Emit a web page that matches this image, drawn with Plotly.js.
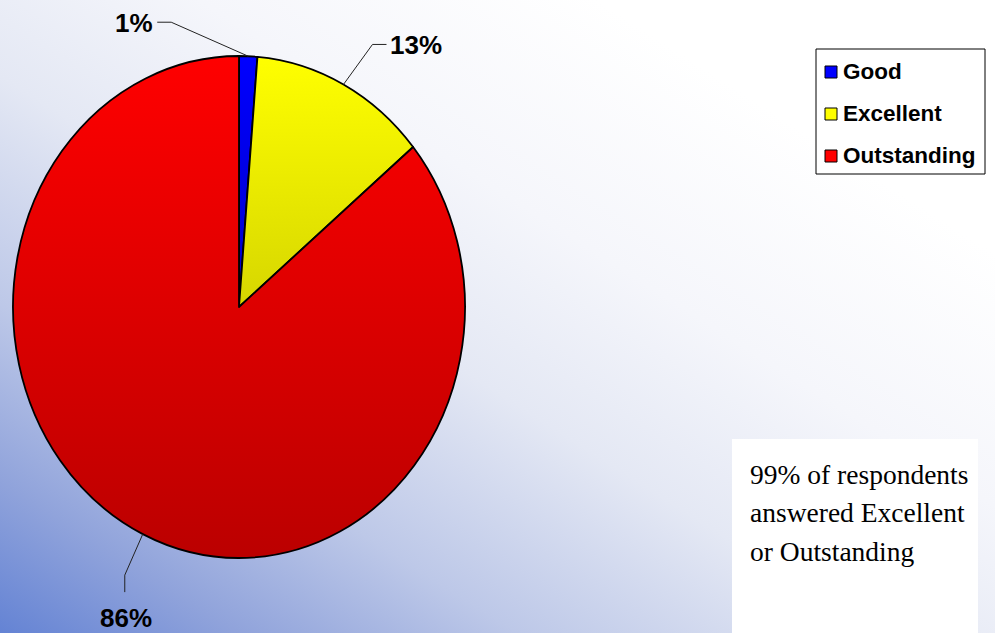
<!DOCTYPE html>
<html><head><meta charset="utf-8">
<script src="https://cdn.plot.ly/plotly-3.0.1.min.js"></script>
<style>
html,body{margin:0;padding:0;background:#fff;}
#chart{width:995px;height:633px;background:linear-gradient(to top right,#6483d4 0%,#90a3db 12%,#bdc8e8 26%,#e4e8f4 44%,#f5f6fb 60%,#ffffff 80%);}
</style></head><body><div id="chart"></div>
<script>
// ---- data ----
const categories = ['Good', 'Excellent', 'Outstanding'];
const values = [1.3, 12.7, 86];
const colors = ['#0000ff', '#ffff00', '#ff0000'];
const shadeColors = ['#0000c8', '#d6d600', '#bb0000'];
const noteLines = ['99% of respondents', 'answered Excellent', 'or Outstanding'];

// ---- layout constants (pixels) ----
const W = 995, H = 633;
const CX = 239, CY = 307, RX = 226, RY = 251;
const fx = px => px / W, fy = py => 1 - py / H;

// label leader styling per slice: elbow offset from edge, tail offset from elbow, label anchor
const leader = [
  {ex: -77, ey: -34, tx: -14, ty: 0, lx: -2, ly: 1, xa: 'right', ya: 'middle'},
  {ex: 29, ey: -40, tx: 14, ty: 0, lx: 2, ly: 1, xa: 'left', ya: 'middle'},
  {ex: -18, ey: 41, tx: 0, ty: 17, lx: 1, ly: 9, xa: 'center', ya: 'top'}
];

const total = values.reduce((a, b) => a + b, 0);
const shapes = [], annotations = [];
let cum = 0;
values.forEach((v, i) => {
  const mid = 2 * Math.PI * (cum + v / 2) / total;
  cum += v;
  const px = CX + RX * Math.sin(mid), py = CY - RY * Math.cos(mid);
  const L = leader[i];
  const ex = px + L.ex, ey = py + L.ey;
  const tx = ex + L.tx, ty = ey + L.ty;
  shapes.push({type: 'path', xref: 'paper', yref: 'paper',
    path: `M ${fx(px)} ${fy(py)} L ${fx(ex)} ${fy(ey)} L ${fx(tx)} ${fy(ty)}`,
    line: {color: '#222', width: 1}});
  annotations.push({xref: 'paper', yref: 'paper', x: fx(tx + L.lx), y: fy(ty + L.ly),
    xanchor: L.xa, yanchor: L.ya, showarrow: false,
    text: Math.round(v / total * 100) + '%',
    font: {family: 'Liberation Sans, Arial, sans-serif', size: 26, color: '#000', weight: 'bold'}});
});

// legend (manual, to match spacing)
shapes.push({type: 'rect', xref: 'paper', yref: 'paper', x0: fx(816), x1: fx(985), y0: fy(49), y1: fy(174),
  fillcolor: '#ffffff', line: {color: '#000', width: 1}});
categories.forEach((c, i) => {
  const yc = 72 + i * 42;
  shapes.push({type: 'rect', xref: 'paper', yref: 'paper', x0: fx(825), x1: fx(837), y0: fy(yc - 6), y1: fy(yc + 6),
    fillcolor: colors[i], line: {color: '#000', width: 1}});
  annotations.push({xref: 'paper', yref: 'paper', x: fx(841), y: fy(yc - 1), xanchor: 'left', yanchor: 'middle',
    showarrow: false, text: c,
    font: {family: 'Liberation Sans, Arial, sans-serif', size: 22.5, color: '#000', weight: 'bold'}});
});

// note box
shapes.push({type: 'rect', xref: 'paper', yref: 'paper', x0: fx(732), x1: fx(978), y0: fy(439), y1: fy(633),
  fillcolor: '#ffffff', line: {width: 0}, layer: 'below'});
noteLines.forEach((t, i) => {
  annotations.push({xref: 'paper', yref: 'paper', x: fx(748), y: fy(474 + i * 38.5), xanchor: 'left', yanchor: 'middle',
    showarrow: false, text: t,
    font: {family: 'Liberation Serif, Times New Roman, serif', size: 27.5, color: '#000'}});
});

const data = [{
  type: 'pie', labels: categories, values: values, sort: false, direction: 'clockwise', rotation: 0,
  marker: {colors: colors, line: {color: '#000', width: 1.8}},
  textinfo: 'none', hoverinfo: 'none', showlegend: false,
  domain: {x: [(CX - RX) / W, (CX + RX) / W], y: [(H - CY - RX) / H, (H - CY + RX) / H]}
}];

const layout = {
  width: W, height: H, margin: {l: 0, r: 0, t: 0, b: 0},
  paper_bgcolor: 'rgba(0,0,0,0)', plot_bgcolor: 'rgba(0,0,0,0)',
  showlegend: false, shapes: shapes, annotations: annotations
};

const gd = document.getElementById('chart');
Plotly.newPlot(gd, data, layout, {staticPlot: true, displayModeBar: false}).then(() => {
  const cd0 = gd.calcdata[0][0];
  const cx = cd0.cx, cy = cd0.cy, r = cd0.r;
  const k = RY / r;
  const NS = 'http://www.w3.org/2000/svg';
  const defs = gd.querySelector('svg.main-svg defs');
  colors.forEach((c, i) => {
    const g = document.createElementNS(NS, 'linearGradient');
    g.setAttribute('id', 'sliceGrad' + i);
    g.setAttribute('x1', '0'); g.setAttribute('y1', '0'); g.setAttribute('x2', '0'); g.setAttribute('y2', '1');
    [[0, c], [1, shadeColors[i]]].forEach(([o, col]) => {
      const s = document.createElementNS(NS, 'stop');
      s.setAttribute('offset', o); s.setAttribute('stop-color', col);
      g.appendChild(s);
    });
    defs.appendChild(g);
  });
  gd.querySelectorAll('.pielayer path.surface').forEach(p => {
    const idx = p.__data__ ? p.__data__.i : 0;
    p.setAttribute('transform', `translate(${cx},${cy}) scale(1,${k}) translate(${-cx},${-cy})`);
    p.setAttribute('vector-effect', 'non-scaling-stroke');
    p.style.fill = `url(#sliceGrad${idx})`;
  });
});
</script></body></html>
